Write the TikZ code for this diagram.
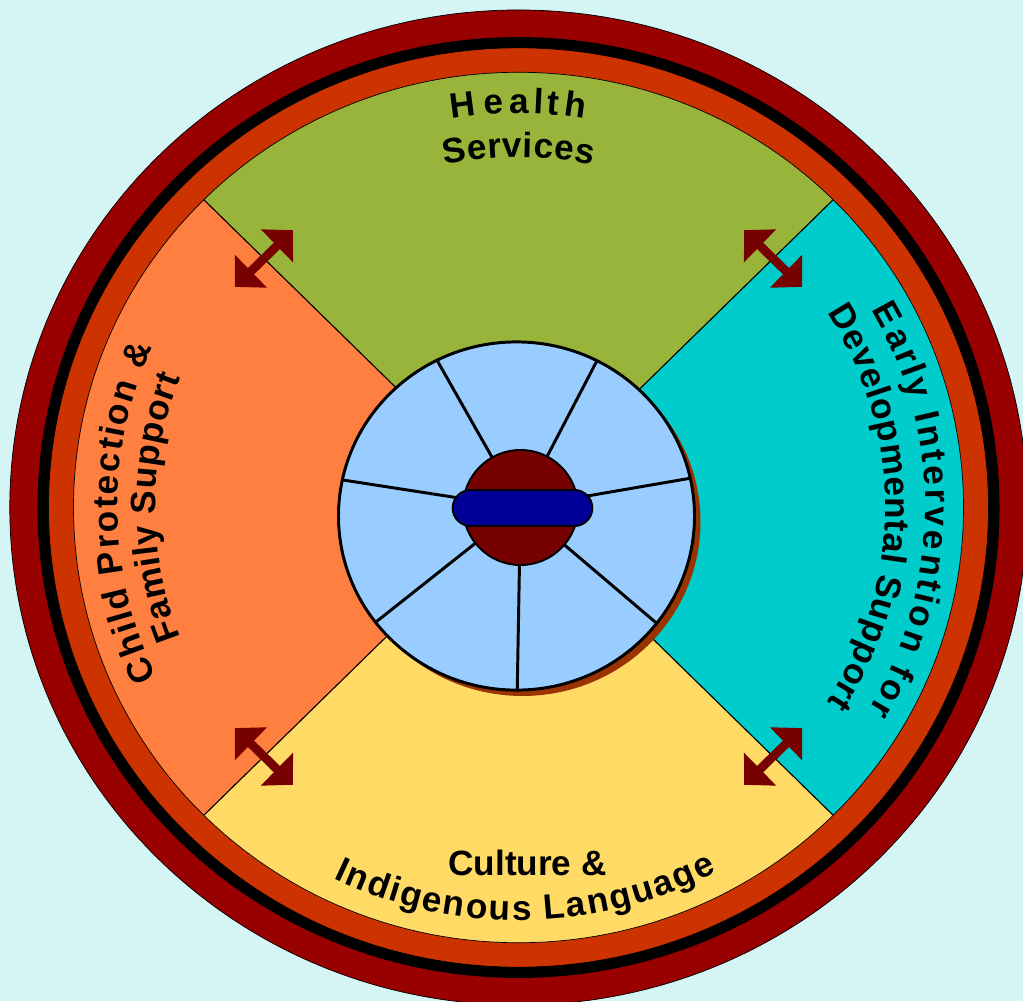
\documentclass[tikz,border=0pt]{standalone}
\usepackage{fontspec}
\setmainfont{Liberation Sans}
\usepackage{tikz}
\usetikzlibrary{
    arrows.meta,
    positioning,
    calc,
    decorations.text,
    shapes.misc
}
\definecolor{skyback}{HTML}{D5F4F4}
\definecolor{rimred}{HTML}{990000}
\definecolor{rimorange}{HTML}{CC3300}
\definecolor{healthgreen}{HTML}{99B43A}
\definecolor{earlycyan}{HTML}{00CCCC}
\definecolor{cultureyellow}{HTML}{FFDB66}
\definecolor{childorange}{HTML}{FF7F40}
\definecolor{corebluel}{HTML}{99CCFF}
\definecolor{coreshadow}{HTML}{993300}
\definecolor{hubred}{HTML}{770000}
\definecolor{barblue}{HTML}{000099}
\newcommand{\ringfont}{\bfseries\fontsize{25}{29}\selectfont}
\tikzset{
    ring/.style={
        draw=black,
        line width=0.5pt
    },
    quarter/.style={
        draw=black,
        line width=0.8pt
    },
    spoke/.style={
        draw=black,
        line width=2.1pt
    },
    hub/.style={
        circle,
        fill=hubred,
        draw=black,
        line width=1.4pt,
        minimum size=2.875cm
    },
    pill/.style={
        rounded rectangle,
        fill=barblue,
        draw=black,
        line width=1.4pt,
        minimum width=3.725cm,
        minimum height=0.9cm
    },
    biarrow/.style={
        {Triangle[length=0.56cm,width=1.12cm]}-{Triangle[length=0.56cm,width=1.12cm]},
        line width=0.22cm,
        draw=hubred
    },
    flatlabel/.style={
        font=\ringfont,
        inner sep=0pt
    },
    arclabel/.style={
        font=\ringfont,
        decorate,
        decoration={
            text effects along path,
            text={#1},
            text align=center,
            text effects/.cd,
            fit text to path,
            characters={text along path, font=\ringfont, text=black}
        }
    }
}

\begin{document}
\begin{tikzpicture}[x=0.025cm, y=0.02445cm]
\useasboundingbox (-518.5,-504.6) rectangle (504.5,518.9);
\fill[skyback] (-518.5,-504.6) rectangle (504.5,518.9);
\coordinate (o) at (0,0);

\draw[ring, fill=rimred] (o) circle[radius=508.7];
\fill[black] (o) circle[radius=481];
\draw[ring, fill=rimorange] (o) circle[radius=470];

\fill[healthgreen] (o) -- (45:445) arc[start angle=45, end angle=135, radius=445] -- cycle;
\fill[childorange] (o) -- (135:445) arc[start angle=135, end angle=225, radius=445] -- cycle;
\fill[cultureyellow] (o) -- (225:445) arc[start angle=225, end angle=315, radius=445] -- cycle;
\fill[earlycyan] (o) -- (315:445) arc[start angle=315, end angle=405, radius=445] -- cycle;
\draw[ring] (o) circle[radius=445];
\foreach \d in {45,135,225,315}
    \draw[quarter] (o) -- (\d:445);

\foreach \d in {45,135,225,315} {
    \coordinate (p\d) at ($(\d:360)+(\d+90:41)$);
    \coordinate (q\d) at ($(\d:360)+(\d-90:41)$);
    \draw[biarrow] (p\d) -- (q\d);
}

\path[arclabel={Health}] (99.5:403) arc[start angle=99.5, end angle=80.5, radius=403];
\path[arclabel={Services}] (102:358) arc[start angle=102, end angle=78, radius=358];
\path[arclabel={Child Protection {\&}}] (205.6:401) arc[start angle=205.6, end angle=155.9, radius=401];
\path[arclabel={Family Support}] (201.4:363) arc[start angle=201.4, end angle=158.6, radius=363];
\path[arclabel={Early Intervention for}] (29.8:407) arc[start angle=29.8, end angle=-30.6, radius=407];
\path[arclabel={Developmental Support}] (32.8:367) arc[start angle=32.8, end angle=-32.8, radius=367];
\path[arclabel={Indigenous Language}] (244:422) arc[start angle=244, end angle=298, radius=422];
\node[flatlabel, anchor=base] (culture) at (9,-376) {Culture \&};

\coordinate (core) at (-2,-8.7);
\coordinate (hc) at (2,0);
\fill[coreshadow] ($(core)+(6,-6)$) circle[radius=178];
\fill[corebluel] (core) circle[radius=178];
\begin{scope}
    \clip (core) circle[radius=178];
    \foreach \a in {10,63,119,171,219,269,319}
        \draw[spoke] (hc) -- ++(\a:240);
\end{scope}
\draw[spoke] (core) circle[radius=178];
\node[hub] (hub) at (hc) {};
\node[pill] (bar) at (4,-0.5) {};

\end{tikzpicture}
\end{document}
